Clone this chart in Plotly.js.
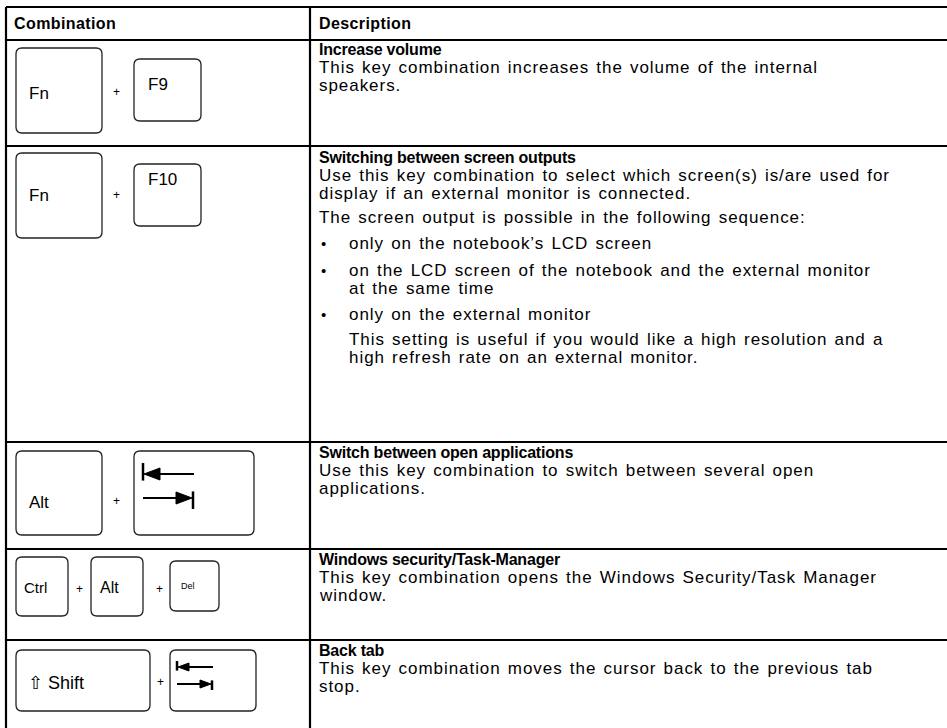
<!DOCTYPE html>
<html><head><meta charset="utf-8">
<script src="https://cdn.plot.ly/plotly-3.0.1.min.js"></script>
<style>html,body{margin:0;padding:0;background:#fff;overflow:hidden}#chart{width:947px;height:728px}</style>
</head><body><div id="chart"></div>
<script>
// ---------- content ----------
const headers = ["Combination", "Description"];
const titles = [
  "Increase volume",
  "Switching between screen outputs",
  "Switch between open applications",
  "Windows security/Task-Manager",
  "Back tab"
];
const bodies = [
  ["This key combination increases the volume of the internal", "speakers."],
  ["Use this key combination to select which screen(s) is/are used for",
   "display if an external monitor is connected.",
   "The screen output is possible in the following sequence:",
   "only on the notebook\u2019s LCD screen",
   "on the LCD screen of the notebook and the external monitor",
   "at the same time",
   "only on the external monitor",
   "This setting is useful if you would like a high resolution and a",
   "high refresh rate on an external monitor."],
  ["Use this key combination to switch between several open", "applications."],
  ["This key combination opens the Windows Security/Task Manager", "window."],
  ["This key combination moves the cursor back to the previous tab", "stop."]
];
const keyLabels = [["Fn", "F9"], ["Fn", "F10"], ["Alt", "TAB"], ["Ctrl", "Alt", "Del"], ["\u21E7 Shift", "TAB"]];

// ---------- layout geometry (not data) ----------
const gridY = [7, 40, 146, 442, 549, 640];
const colX = [6, 310, 947];
const textX = 318, indentX = 348, bulletX = 320;
const titleY = [49, 157, 452, 559, 650];
const bodyY = [[67, 85], [175, 193, 217, 243, 270, 288, 314, 339, 357], [470, 488], [577, 595], [668, 686]];
const bodyIndent = [[0, 0], [0, 0, 0, 1, 1, 1, 1, 1, 1], [0, 0], [0, 0], [0, 0]];
const bodyBullet = [[0, 0], [0, 0, 0, 1, 1, 0, 1, 0, 0], [0, 0], [0, 0], [0, 0]];
// key boxes: [x0,x1,y0,y1, labelX, labelY, fontSize]
const keyBoxes = [
  [[16, 102, 48, 133, 28, 93, 17], [134, 201, 59, 121, 147, 84, 17]],
  [[16, 102, 153, 238, 28, 195, 17], [134, 201, 164, 226, 147, 179, 17]],
  [[16, 102, 451, 535, 28, 502, 17], [134, 254, 451, 535, 0, 0, 0]],
  [[16, 68, 557, 616, 23, 587, 15], [91, 143, 557, 616, 99, 587, 16], [170, 219, 561, 611, 180, 586, 9]],
  [[16, 150, 650, 711, 27, 683, 18], [170, 256, 650, 711, 0, 0, 0]]
];
const plusPos = [[[116, 92]], [[116, 195]], [[116, 501]], [[79, 589], [159, 589]], [[160, 682]]];
// tab arrows: [x0, x1, yTop, yBottom, barHalf, headLen, headHalf]
const tabArrows = {2: [143, 194, 474, 498, 11, 17, 6], 4: [177, 213, 667, 684, 6, 12, 4]};

const FONT = "Liberation Sans, Arial, Helvetica, sans-serif";
const shapes = [], annotations = [], spaced = [];

function rr(x0, x1, y0, y1, r) {
  return `M${x0 + r},${y0} L${x1 - r},${y0} Q${x1},${y0} ${x1},${y0 + r} L${x1},${y1 - r} Q${x1},${y1} ${x1 - r},${y1} L${x0 + r},${y1} Q${x0},${y1} ${x0},${y1 - r} L${x0},${y0 + r} Q${x0},${y0} ${x0 + r},${y0} Z`;
}
function addText(t, x, y, size, bold, spacing, wspace) {
  annotations.push({x: x, y: y, xref: 'x', yref: 'y', text: bold ? '<b>' + t + '</b>' : t, showarrow: false,
    xanchor: 'left', yanchor: 'middle', align: 'left', borderpad: 0,
    font: {family: FONT, size: size, color: '#000'}});
  spaced.push([spacing || 0, wspace || 0]);
}

// grid lines
gridY.forEach(y => shapes.push({type: 'line', xref: 'x', yref: 'y', x0: colX[0], x1: colX[2], y0: y, y1: y, line: {color: '#000', width: 2.2}}));
[colX[0], colX[1]].forEach(x => shapes.push({type: 'line', xref: 'x', yref: 'y', x0: x, x1: x, y0: gridY[0], y1: 728, line: {color: '#000', width: 2.2}}));

// headers
addText(headers[0], 13, 23, 16, true, 0.4);
addText(headers[1], textX, 23, 16, true, 0.4);

// descriptions
titles.forEach((t, r) => {
  addText(t, textX, titleY[r], 16, true, -0.2);
  bodies[r].forEach((line, i) => {
    const x = bodyIndent[r][i] ? indentX : textX;
    addText(line, x, bodyY[r][i], 17, false, 0.95, 1.5);
    if (bodyBullet[r][i]) addText('\u2022', bulletX, bodyY[r][i], 15, false, 0);
  });
});

// keys
keyLabels.forEach((labels, r) => {
  labels.forEach((lab, k) => {
    const b = keyBoxes[r][k];
    shapes.push({type: 'path', xref: 'x', yref: 'y', path: rr(b[0], b[1], b[2], b[3], 6), line: {color: '#222', width: 1.3}, fillcolor: 'rgba(0,0,0,0)'});
    if (lab === 'TAB') {
      const [x0, x1, yt, yb, bh, hl, hh] = tabArrows[r];
      shapes.push({type: 'line', xref: 'x', yref: 'y', x0: x0, x1: x0, y0: yt - bh, y1: yt + bh * 0.6, line: {color: '#000', width: 2.5}});
      shapes.push({type: 'line', xref: 'x', yref: 'y', x0: x0 + hl - 2, x1: x1, y0: yt, y1: yt, line: {color: '#000', width: 2}});
      shapes.push({type: 'path', xref: 'x', yref: 'y', path: `M${x0 + 1},${yt} L${x0 + hl},${yt - hh} L${x0 + hl},${yt + hh} Z`, fillcolor: '#000', line: {color: '#000', width: 1}});
      shapes.push({type: 'line', xref: 'x', yref: 'y', x0: x1 - 1, x1: x1 - 1, y0: yb - bh * 0.6, y1: yb + bh, line: {color: '#000', width: 2.5}});
      shapes.push({type: 'line', xref: 'x', yref: 'y', x0: x0, x1: x1 - hl, y0: yb, y1: yb, line: {color: '#000', width: 2}});
      shapes.push({type: 'path', xref: 'x', yref: 'y', path: `M${x1 - 2},${yb} L${x1 - hl - 1},${yb - hh} L${x1 - hl - 1},${yb + hh} Z`, fillcolor: '#000', line: {color: '#000', width: 1}});
    } else {
      addText(lab, b[4], b[5], b[6], false, 0);
    }
  });
  plusPos[r].forEach(p => {
    annotations.push({x: p[0], y: p[1], xref: 'x', yref: 'y', text: '+', showarrow: false,
      xanchor: 'center', yanchor: 'middle', font: {family: FONT, size: 12, color: '#000'}});
    spaced.push([0, 0]);
  });
});

const layout = {
  width: 947, height: 728, margin: {l: 0, r: 0, t: 0, b: 0, pad: 0},
  paper_bgcolor: '#fff', plot_bgcolor: '#fff', showlegend: false,
  xaxis: {range: [0, 947], visible: false, fixedrange: true},
  yaxis: {range: [728, 0], visible: false, fixedrange: true},
  shapes: shapes, annotations: annotations
};
Plotly.newPlot('chart', [{x: [0], y: [0], mode: 'markers', marker: {opacity: 0}, hoverinfo: 'skip'}], layout, {staticPlot: true, displayModeBar: false})
  .then(() => {
    const nodes = document.querySelectorAll('#chart .annotation');
    nodes.forEach((n, i) => {
      const s = spaced[i];
      if (s && (s[0] || s[1])) {
        const t = n.querySelector('text');
        if (t) { t.style.letterSpacing = s[0] + 'px'; t.style.wordSpacing = s[1] + 'px'; }
      }
    });
  });
</script></body></html>
